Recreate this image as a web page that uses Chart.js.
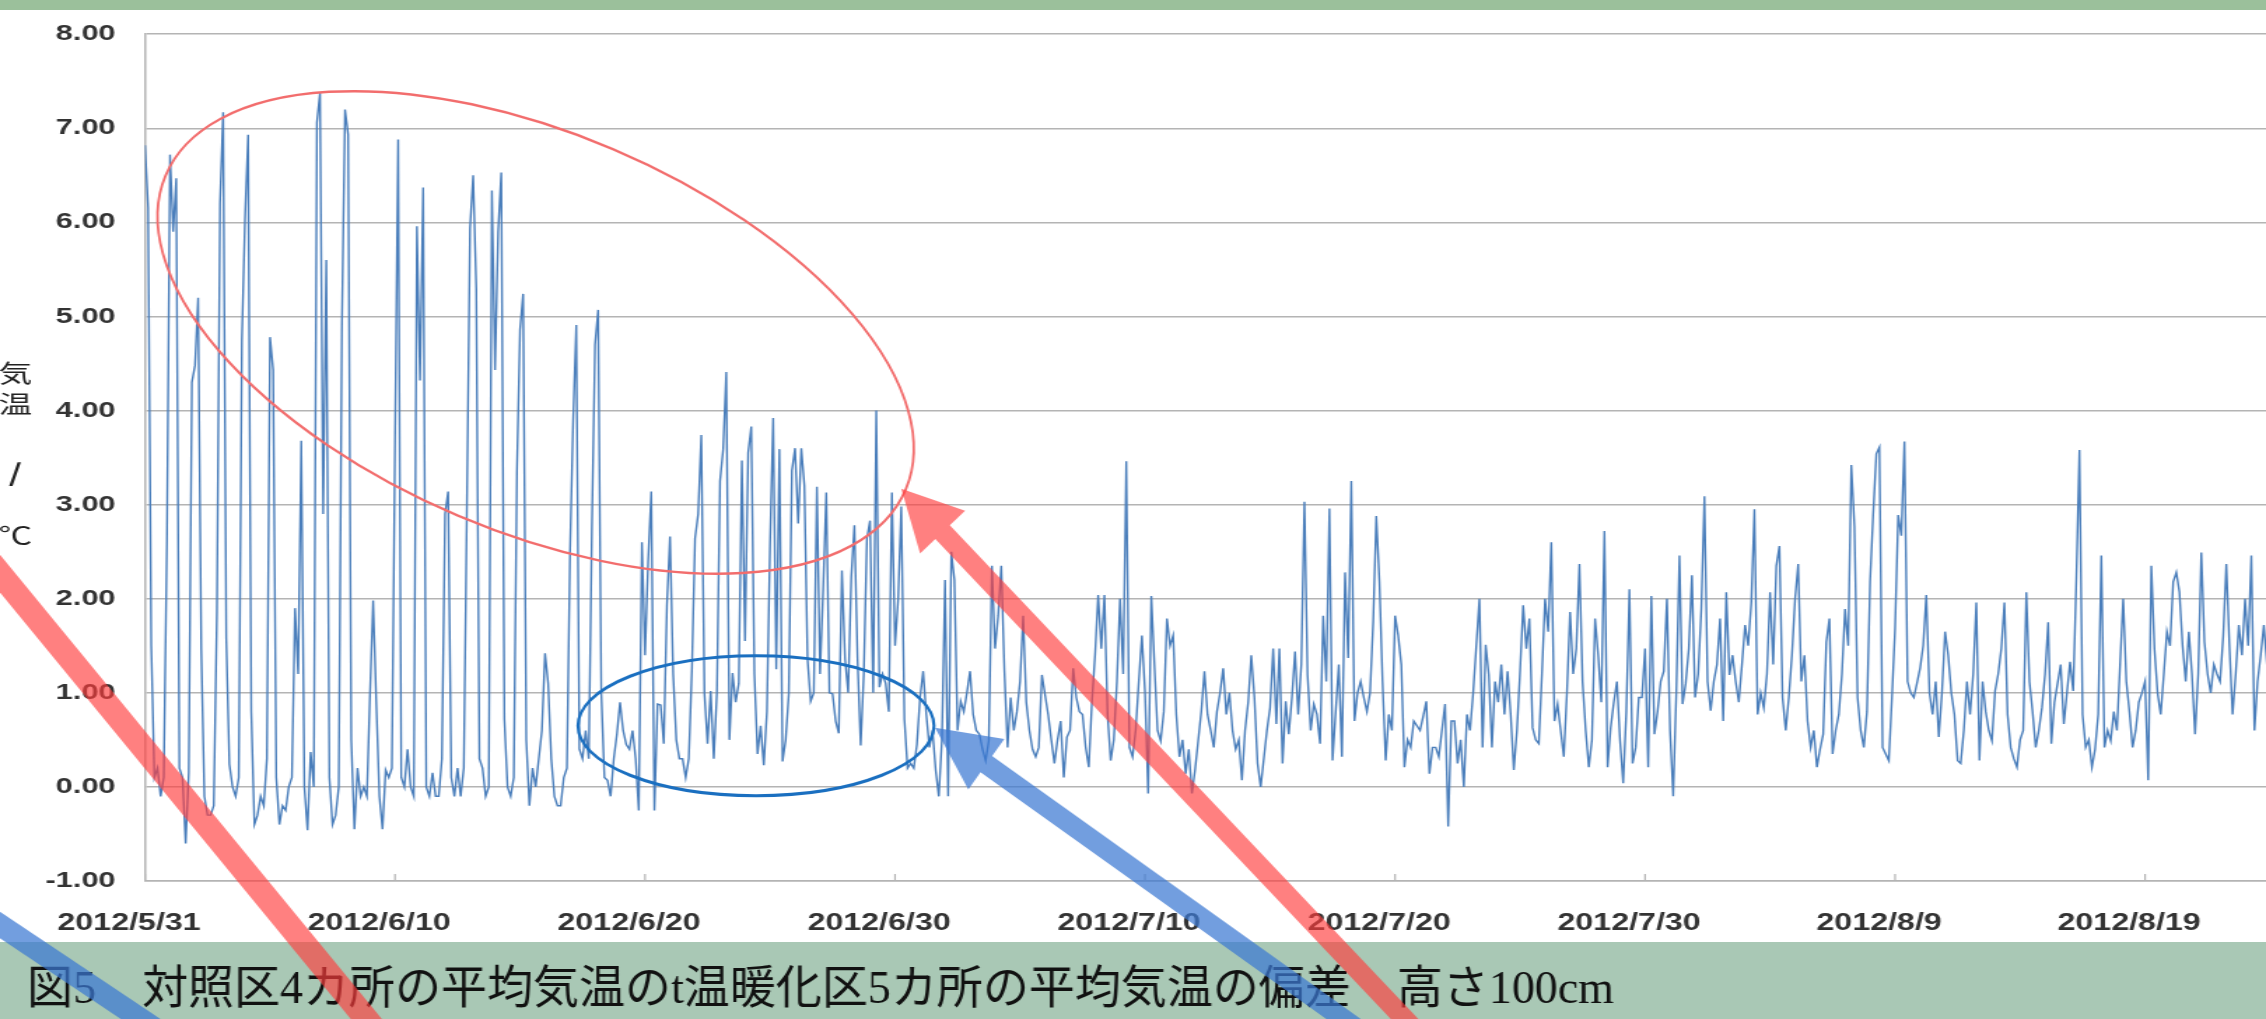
<!DOCTYPE html>
<html lang="ja">
<head>
<meta charset="UTF-8">
<title>図5 平均気温の偏差</title>
<script src="https://cdn.jsdelivr.net/npm/chart.js"></script>
<style>
  html, body { margin: 0; padding: 0; background: #fff; overflow: hidden; }
  #wrap { position: relative; width: 2266px; height: 1019px; overflow: hidden; }
  /* the source picture is stretched sideways, so the canvas is too */
  #chart { position: absolute; left: 0; top: 0; transform-origin: 0 0; transform: scaleX(1.39963); }
</style>
</head>
<body>
<div id="wrap"><canvas id="chart" width="1619" height="1019"></canvas></div>

<script>
  const STRETCH = 2266 / 1619;
  const stepsPerDay = 8;            // one reading every 3 hours
  const stepsPerTick = 10 * stepsPerDay;

  const dateLabels = ["2012/5/31", "2012/6/10", "2012/6/20", "2012/6/30", "2012/7/10",
                      "2012/7/20", "2012/7/30", "2012/8/9", "2012/8/19"];

  // deviation (°C), 5/31 - 6/30, one row per day
  const devJune = [
    6.82, 6.15, 1.5, 0.1, 0.2, -0.1, 0.1, 2.6,
    6.72, 5.9, 6.47, 0.2, 0.1, -0.6, 0.15, 4.3,
    4.48, 5.2, 1.47, -0.1, -0.3, -0.3, -0.2, 1.85,
    6.2, 7.17, 1.58, 0.24, 0.0, -0.1, 0.1, 4.75,
    6.04, 6.93, 0.8, -0.4, -0.3, -0.1, -0.2, 0.3,
    4.78, 4.43, 0.1, -0.4, -0.2, -0.25, 0.0, 0.1,
    1.9, 1.2, 3.68, 0.0, -0.46, 0.37, 0.0, 7.06,
    7.38, 2.9, 5.6, 0.1, -0.4, -0.3, 0.0, 4.9,
    7.2, 6.93, 0.5, -0.45, 0.2, -0.1, 0.0, -0.1,
    1.0, 1.98, 0.9, -0.1, -0.45, 0.18, 0.1, 0.2,
    3.68, 6.88, 0.1, 0.0, 0.4, 0.0, -0.1, 5.96,
    4.32, 6.37, 0.0, -0.1, 0.15, -0.1, -0.1, 0.3,
    2.9, 3.14, 0.1, -0.1, 0.2, -0.1, 0.2, 3.0,
    5.94, 6.5, 5.3, 0.3, 0.2, -0.1, 0.0, 6.34,
    4.43, 5.9, 6.53, 0.72, 0.0, -0.1, 0.1, 3.35,
    4.86, 5.24, 0.5, -0.2, 0.2, 0.0, 0.3, 0.6,
    1.42, 1.1, 0.3, -0.1, -0.2, -0.2, 0.1, 0.2,
    2.5, 3.9, 4.91, 0.4, 0.3, 0.6, 0.3, 2.76,
    4.7, 5.07, 1.0, 0.1, 0.07, -0.1, 0.3, 0.56,
    0.9, 0.6, 0.45, 0.4, 0.6, 0.3, -0.25, 2.6,
    1.4, 2.4, 3.14, -0.25, 0.88, 0.87, 0.46, 1.93,
    2.66, 1.2, 0.5, 0.3, 0.3, 0.1, 0.3, 1.25,
    2.64, 2.9, 3.74, 1.0, 0.46, 1.02, 0.3, 1.0,
    3.25, 3.59, 4.41, 0.5, 1.21, 0.9, 1.1, 3.47,
    1.55, 3.55, 3.83, 1.2, 0.35, 0.65, 0.23, 0.8,
    2.57, 3.92, 1.25, 3.59, 0.27, 0.5, 0.99, 3.36,
    3.6, 2.8, 3.6, 3.2, 1.36, 0.91, 1.0, 3.19,
    1.2, 2.1, 3.13, 1.0, 0.99, 0.7, 0.57, 2.3,
    1.36, 1.0, 2.23, 2.78, 1.36, 0.44, 1.2, 2.64,
    2.83, 1.0, 4.0, 1.06, 1.2, 1.1, 0.8, 3.13,
    1.5, 2.0, 2.98, 0.72, 0.2, 0.25, 0.2, 0.45
  ];

  // 7/1 - 7/31
  const devJuly = [
    0.95, 1.23, 0.77, 0.42, 0.6, 0.18, -0.1, 0.5,
    2.2, -0.1, 2.5, 2.2, 0.6, 0.91, 0.8, 1.0,
    1.23, 0.77, 0.6, 0.56, 0.4, 0.28, 0.49, 2.35,
    1.47, 1.82, 2.35, 1.23, 0.42, 0.95, 0.6, 0.8,
    1.12, 1.82, 0.9, 0.6, 0.4, 0.32, 0.42, 1.19,
    0.98, 0.77, 0.5, 0.25, 0.5, 0.7, 0.1, 0.53,
    0.6, 1.26, 0.95, 0.8, 0.77, 0.42, 0.21, 0.9,
    1.4, 2.04, 1.47, 2.04, 0.77, 0.28, 0.5, 1.12,
    2.0, 1.2, 3.46, 0.42, 0.32, 0.6, 1.12, 1.61,
    1.0, -0.07, 2.03, 1.3, 0.6, 0.49, 0.8, 1.79,
    1.5, 1.61, 0.77, 0.32, 0.5, 0.14, 0.4, -0.07,
    0.18, 0.49, 0.8, 1.23, 0.77, 0.6, 0.42, 0.8,
    1.0, 1.26, 0.77, 1.0, 0.6, 0.4, 0.5, 0.07,
    0.6, 0.9, 1.4, 0.95, 0.25, 0.0, 0.3, 0.6,
    0.84, 1.47, 0.67, 1.47, 0.25, 0.91, 0.56, 0.95,
    1.44, 0.77, 1.3, 3.03, 1.19, 0.6, 0.88, 0.77,
    0.46, 1.82, 1.12, 2.96, 0.28, 0.8, 1.3, 0.32,
    2.28, 1.37, 3.25, 0.7, 1.0, 1.12, 0.95, 0.8,
    1.0, 1.75, 2.88, 2.18, 1.12, 0.28, 0.77, 0.6,
    1.82, 1.61, 1.3, 0.21, 0.5, 0.42, 0.7, 0.65,
    0.6, 0.75, 0.91, 0.14, 0.42, 0.42, 0.32, 0.6,
    0.88, -0.42, 0.7, 0.7, 0.25, 0.5, 0.0, 0.77,
    0.6, 1.0, 1.5, 2.0, 0.42, 1.51, 1.19, 0.42,
    1.12, 0.9, 1.3, 0.77, 1.23, 0.77, 0.18, 0.6,
    1.23, 1.93, 1.47, 1.79, 0.63, 0.5, 0.46, 1.2,
    2.0, 1.65, 2.6, 0.7, 0.88, 0.6, 0.32, 1.0,
    1.86, 1.2, 1.47, 2.37, 1.12, 0.6, 0.21, 0.5,
    1.79, 1.4, 0.9, 2.72, 0.21, 0.63, 0.9, 1.12,
    0.49, 0.04, 0.8, 2.1, 0.25, 0.42, 0.95, 0.95,
    1.47, 0.21, 2.03, 0.56, 0.8, 1.12, 1.23, 2.0,
    0.6, -0.1, 1.0, 2.46, 0.88, 1.1, 1.47, 2.25
  ];

  // 8/1 - 8/23
  const devAugust = [
    0.95, 1.2, 1.89, 3.09, 1.12, 0.81, 1.12, 1.3,
    1.79, 0.7, 2.07, 1.19, 1.4, 1.12, 0.9, 1.3,
    1.72, 1.5, 1.96, 2.95, 0.77, 1.0, 0.84, 1.2,
    2.07, 1.3, 2.35, 2.56, 0.95, 0.6, 0.95, 1.4,
    2.0, 2.37, 1.12, 1.4, 0.7, 0.42, 0.6, 0.21,
    0.4, 0.56, 1.54, 1.79, 0.35, 0.6, 0.77, 1.2,
    1.89, 1.5, 3.42, 2.77, 0.95, 0.6, 0.42, 0.8,
    2.18, 2.9, 3.54, 3.61, 0.42, 0.35, 0.28, 0.95,
    1.68, 2.89, 2.67, 3.67, 1.12, 1.0, 0.95, 1.1,
    1.26, 1.5, 2.04, 1.0, 0.77, 1.12, 0.53, 1.0,
    1.65, 1.4, 1.0, 0.77, 0.28, 0.25, 0.6, 1.12,
    0.77, 1.2, 1.96, 0.28, 1.12, 0.8, 0.6, 0.49,
    1.02, 1.2, 1.47, 1.96, 0.77, 0.42, 0.3, 0.21,
    0.5, 0.6, 2.07, 1.12, 0.8, 0.42, 0.6, 0.84,
    1.2, 1.75, 0.46, 0.9, 1.1, 1.3, 0.67, 1.0,
    1.33, 1.02, 2.2, 3.58, 0.77, 0.42, 0.5, 0.21,
    0.4, 0.77, 2.46, 0.42, 0.6, 0.49, 0.8, 0.6,
    1.3, 2.0, 1.12, 0.8, 0.42, 0.6, 0.9, 1.0,
    1.12, 0.07, 2.35, 1.47, 1.0, 0.77, 1.2, 1.65,
    1.5, 2.18, 2.28, 2.07, 1.5, 1.12, 1.65, 1.2,
    0.56, 1.2, 2.49, 1.54, 1.2, 1.0, 1.3, 1.2,
    1.12, 1.6, 2.37, 1.5, 0.77, 1.2, 1.72, 1.4,
    2.0, 1.5, 2.46, 0.6, 1.12, 1.4, 1.72, 1.3
  ];

  const readings = devJune.concat(devJuly, devAugust);

  const titleText = "図5　対照区4カ所の平均気温のt温暖化区5カ所の平均気温の偏差　高さ100cm";
  const axisTitle = ["気", "温", "/", "℃"];

  const GRID = "#b4b4b4";
  const TEXT = "#333333";

  function arrow(ctx, tx, ty, deg, len, shaftW, headLen, headHalf, color) {
    const a = deg * Math.PI / 180;
    const ux = Math.cos(a), uy = Math.sin(a);
    const nx = -uy, ny = ux;
    const bx = tx + ux * headLen, by = ty + uy * headLen;
    const ex = tx + ux * len, ey = ty + uy * len;
    const s = shaftW / 2;
    ctx.beginPath();
    ctx.moveTo(tx, ty);
    ctx.lineTo(bx + nx * headHalf, by + ny * headHalf);
    ctx.lineTo(bx + nx * s, by + ny * s);
    ctx.lineTo(ex + nx * s, ey + ny * s);
    ctx.lineTo(ex - nx * s, ey - ny * s);
    ctx.lineTo(bx - nx * s, by - ny * s);
    ctx.lineTo(bx - nx * headHalf, by - ny * headHalf);
    ctx.closePath();
    ctx.fillStyle = color;
    ctx.fill();
  }

  function band(ctx, x1, y1, x2, y2, w, color) {
    ctx.beginPath();
    ctx.moveTo(x1, y1);
    ctx.lineTo(x2, y2);
    ctx.lineWidth = w;
    ctx.lineCap = "butt";
    ctx.strokeStyle = color;
    ctx.stroke();
  }

  const decor = {
    id: "decor",
    afterDraw(chart) {
      const { ctx, chartArea } = chart;
      const x = chart.scales.x, y = chart.scales.y;
      ctx.save();

      // small inward tick marks on the date axis
      ctx.strokeStyle = GRID;
      ctx.lineWidth = 1.2;
      x.ticks.forEach(t => {
        const px = x.getPixelForValue(t.value);
        ctx.beginPath();
        ctx.moveTo(px, chartArea.bottom - 7);
        ctx.lineTo(px, chartArea.bottom);
        ctx.stroke();
      });

      // vertical axis title, one character per line
      ctx.fillStyle = "#222";
      ctx.textAlign = "center";
      ctx.textBaseline = "middle";
      const rows = [373, 404, 473, 535];
      axisTitle.forEach((c, i) => {
        ctx.font = (c === "/" ? "bold " : "") + "24px 'Noto Sans CJK JP', 'DejaVu Sans'";
        ctx.fillText(c, 11, rows[i]);
      });

      // everything below is laid out in final (unstretched) pixels
      ctx.scale(1 / STRETCH, 1);
      const fx = v => x.getPixelForValue(v) * STRETCH;

      // highlight ellipses
      ctx.lineWidth = 2.5;
      ctx.strokeStyle = "#f26d6d";
      ctx.beginPath();
      ctx.ellipse(fx(125), y.getPixelForValue(4.83), 402, 199, 23 * Math.PI / 180, 0, Math.PI * 2);
      ctx.stroke();

      ctx.lineWidth = 3;
      ctx.strokeStyle = "#1a6fc0";
      ctx.beginPath();
      ctx.ellipse(fx(195.5), y.getPixelForValue(0.65), 178, 70, 0, 0, Math.PI * 2);
      ctx.stroke();

      // green bars
      ctx.fillStyle = "#9bc09b";
      ctx.fillRect(0, 0, 2266, 10);
      ctx.fillStyle = "#a9c8b5";
      ctx.fillRect(0, 942, 2266, 77);

      ctx.fillStyle = "#111";
      ctx.textAlign = "left";
      ctx.textBaseline = "alphabetic";
      ctx.font = "46px 'Liberation Serif', 'Noto Sans CJK JP'";
      ctx.fillText(titleText, 27, 1003, 1592);

      // arrows on top
      const red = "rgba(255, 60, 60, 0.65)";
      const blue = "rgba(60, 120, 210, 0.72)";
      band(ctx, -40, 525, 400, 1060, 24, red);
      band(ctx, -60, 885, 190, 1052, 22, blue);
      arrow(ctx, fx(242), y.getPixelForValue(3.17), 46.5, 800, 20, 60, 31, red);
      arrow(ctx, fx(252.8), y.getPixelForValue(0.63), 35.5, 600, 20, 63, 31, blue);

      ctx.restore();
    }
  };

  new Chart(document.getElementById("chart"), {
    type: "line",
    data: {
      datasets: [{
        data: readings.map((v, i) => ({ x: i, y: v })),
        borderColor: "#4a7ebb",
        borderWidth: 1.4,
        pointRadius: 0,
        tension: 0,
        fill: false
      }]
    },
    options: {
      responsive: false,
      animation: false,
      devicePixelRatio: 1,
      events: [],
      layout: { padding: { top: 27, right: 0, bottom: 0, left: 0 } },
      plugins: { legend: { display: false }, tooltip: { enabled: false } },
      scales: {
        x: {
          type: "linear",
          min: 0,
          max: 678.7,
          afterFit: s => { s.height = 138; },
          grid: { display: false },
          border: { display: true, color: GRID, width: 1.5 },
          ticks: {
            stepSize: stepsPerTick,
            includeBounds: false,
            autoSkip: false,
            maxRotation: 0,
            labelOffset: -11.4,
            padding: 21,
            color: TEXT,
            font: { family: "'Liberation Sans', Arial", size: 23, weight: "bold" },
            callback: v => dateLabels[Math.round(v / stepsPerTick)] ?? ""
          }
        },
        y: {
          min: -1,
          max: 8,
          afterFit: s => { s.width = 103.6; },
          grid: { color: GRID, lineWidth: 1.5, drawTicks: false },
          border: { display: true, color: GRID, width: 1.5 },
          ticks: {
            stepSize: 1,
            padding: 21,
            color: TEXT,
            font: { family: "'Liberation Sans', Arial", size: 22, weight: "bold" },
            callback: v => v.toFixed(2)
          }
        }
      }
    },
    plugins: [decor]
  });
</script>
</body>
</html>
